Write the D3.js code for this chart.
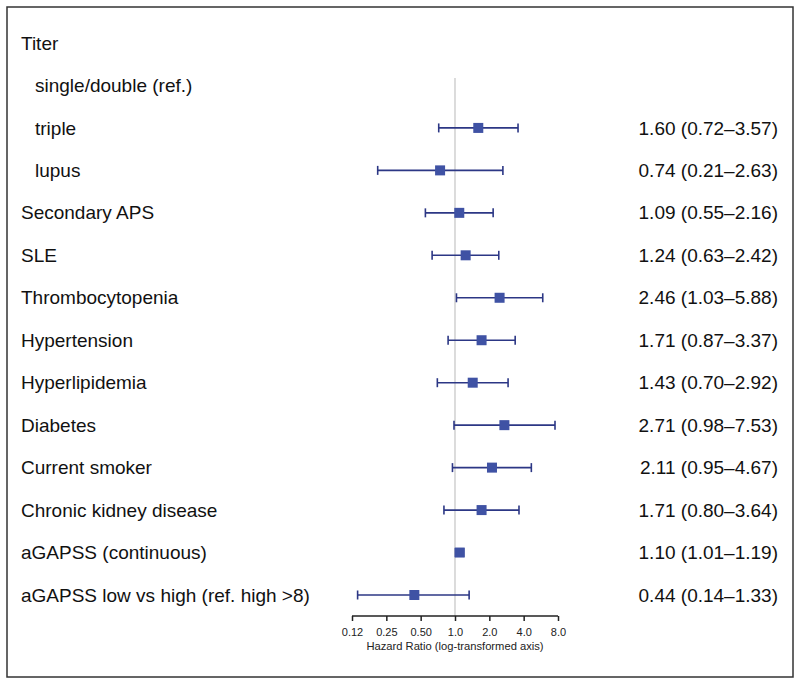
<!DOCTYPE html>
<html>
<head>
<meta charset="utf-8">
<script src="https://cdn.jsdelivr.net/npm/d3@7"></script>
<style>
  body { margin: 0; background: #fff; }
  svg { display: block; font-family: "Liberation Sans", Arial, sans-serif; }
</style>
</head>
<body>
<svg id="chart" width="800" height="686"></svg>
<script>
// rows of the forest plot, top to bottom
var labels = ["Titer", "single/double (ref.)", "triple", "lupus", "Secondary APS", "SLE",
  "Thrombocytopenia", "Hypertension", "Hyperlipidemia", "Diabetes", "Current smoker",
  "Chronic kidney disease", "aGAPSS (continuous)", "aGAPSS low vs high (ref. high >8)"];
var indented = [false, true, true, true, false, false, false, false, false, false, false, false, false, false];
var hr = [null, null, 1.60, 0.74, 1.09, 1.24, 2.46, 1.71, 1.43, 2.71, 2.11, 1.71, 1.10, 0.44];
var lower = [null, null, 0.72, 0.21, 0.55, 0.63, 1.03, 0.87, 0.70, 0.98, 0.95, 0.80, 1.01, 0.14];
var upper = [null, null, 3.57, 2.63, 2.16, 2.42, 5.88, 3.37, 2.92, 7.53, 4.67, 3.64, 1.19, 1.33];
var ticks = [0.125, 0.25, 0.5, 1, 2, 4, 8];
var tickLabels = ["0.12", "0.25", "0.50", "1.0", "2.0", "4.0", "8.0"];

var svg = d3.select("#chart");
var navy = "#2c3785", blue = "#3f52a4";

// frame
svg.append("rect").attr("x", 7).attr("y", 7).attr("width", 786).attr("height", 670)
  .attr("fill", "none").attr("stroke", "#333").attr("stroke-width", 1.5);

var x = d3.scaleLog().base(2).domain([0.125, 8]).range([352, 558]);
var y = d3.scalePoint().domain(d3.range(labels.length)).range([43, 595]);

var rows = labels.map(function(l, i) {
  return {label: l, indent: indented[i], hr: hr[i], lo: lower[i], hi: upper[i], i: i};
});

// reference line at HR = 1
svg.append("line").attr("x1", x(1)).attr("x2", x(1)).attr("y1", 78).attr("y2", 616)
  .attr("stroke", "#c4c4c4").attr("stroke-width", 1.2);

// labels
svg.selectAll("text.lab").data(rows).enter().append("text")
  .attr("class", "lab")
  .attr("x", d => d.indent ? 35 : 21)
  .attr("y", d => y(d.i))
  .attr("dy", "0.35em")
  .attr("font-size", 19)
  .attr("fill", "#111")
  .text(d => d.label);

var est = rows.filter(d => d.hr != null);
var f = d3.format(".2f");

// estimates text
svg.selectAll("text.est").data(est).enter().append("text")
  .attr("class", "est")
  .attr("x", 778)
  .attr("y", d => y(d.i))
  .attr("dy", "0.35em")
  .attr("text-anchor", "end")
  .attr("font-size", 19)
  .attr("fill", "#111")
  .text(d => f(d.hr) + " (" + f(d.lo) + "\u2013" + f(d.hi) + ")");

var g = svg.selectAll("g.ci").data(est).enter().append("g").attr("class", "ci");
g.append("line")
  .attr("x1", d => x(d.lo)).attr("x2", d => x(d.hi))
  .attr("y1", d => y(d.i)).attr("y2", d => y(d.i))
  .attr("stroke", navy).attr("stroke-width", 1.6);
g.append("line")
  .attr("x1", d => x(d.lo)).attr("x2", d => x(d.lo))
  .attr("y1", d => y(d.i) - 4.5).attr("y2", d => y(d.i) + 4.5)
  .attr("stroke", navy).attr("stroke-width", 1.6);
g.append("line")
  .attr("x1", d => x(d.hi)).attr("x2", d => x(d.hi))
  .attr("y1", d => y(d.i) - 4.5).attr("y2", d => y(d.i) + 4.5)
  .attr("stroke", navy).attr("stroke-width", 1.6);
g.append("rect")
  .attr("x", d => x(d.hr) - 5).attr("y", d => y(d.i) - 5)
  .attr("width", 10).attr("height", 10)
  .attr("fill", blue);

// axis
var axis = d3.axisBottom(x).tickValues(ticks).tickSize(5)
  .tickFormat((d, i) => tickLabels[i]);
var ag = svg.append("g").attr("transform", "translate(0,616)").call(axis);
ag.select(".domain").attr("stroke", "#222").attr("stroke-width", 1.5).attr("d", "M" + x(0.125) + ",0H" + x(8));
ag.selectAll(".tick line").attr("stroke", "#222").attr("stroke-width", 1.5);
ag.selectAll(".tick text").attr("font-size", 11).attr("fill", "#222").attr("y", 12)
  .attr("font-family", "Liberation Sans, Arial, sans-serif");

svg.append("text").attr("x", x(1)).attr("y", 650)
  .attr("text-anchor", "middle").attr("font-size", 11.2).attr("fill", "#222")
  .text("Hazard Ratio (log-transformed axis)");
</script>
</body>
</html>
